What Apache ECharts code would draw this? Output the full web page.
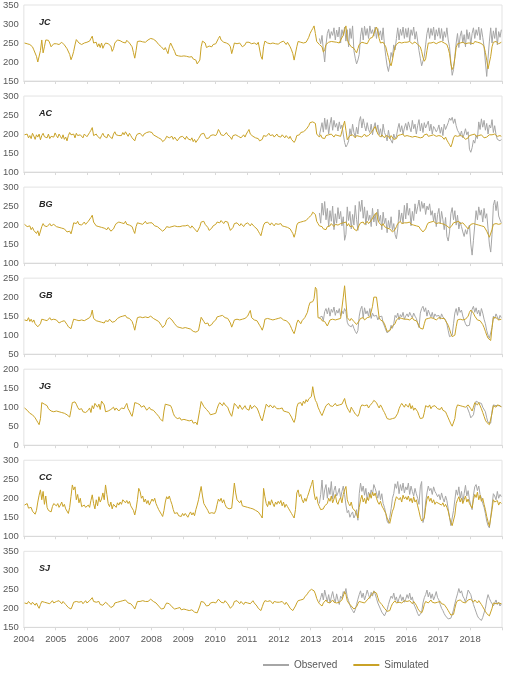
<!DOCTYPE html>
<html>
<head>
<meta charset="utf-8">
<script src="https://cdn.jsdelivr.net/npm/echarts@6/dist/echarts.min.js"></script>
<style>
  html, body { margin: 0; padding: 0; background: #fff; }
  #chart { width: 506px; height: 678px; }
</style>
</head>
<body>
<div id="chart"></div>
<script>
// semimonthly values, 24 per year, 2004..2018; observed series start at index 216 (2013)
const panelNames = ['JC', 'AC', 'BG', 'GB', 'JG', 'CC', 'SJ'];
const yMins = [150, 100, 100, 50, 0, 100, 150];
const yMaxs = [350, 300, 300, 250, 200, 300, 350];
const yearTicks = [2004, 2005, 2006, 2007, 2008, 2009, 2010, 2011, 2012, 2013, 2014, 2015, 2016, 2017, 2018];
const OBS_START = 216;

const simJC = [
  250,252,248,250,246,244,240,232,228,215,200,197,230,258,224,240,258,256,257,250,240,236,248,250,
  248,250,246,248,252,250,245,240,235,230,220,206,215,228,245,259,255,250,252,246,248,250,247,252,
  250,255,262,268,250,245,252,240,248,238,250,236,244,250,252,248,246,242,228,235,250,255,258,255,
  256,254,252,255,250,257,253,250,248,240,225,210,230,254,252,255,250,253,256,252,254,258,260,262,
  262,260,264,255,250,246,248,240,236,232,238,230,222,240,250,245,235,228,218,214,216,213,215,214,
  216,212,215,218,213,210,214,208,212,205,195,190,205,240,255,252,250,238,235,242,245,240,246,248,
  248,252,262,268,258,255,252,256,250,253,246,240,222,235,250,252,248,251,250,246,240,238,245,252,
  254,252,250,248,252,250,248,246,252,249,215,207,240,255,252,250,254,248,246,250,245,248,244,247,
  250,252,248,255,250,246,252,248,240,232,222,205,210,240,254,250,252,256,250,248,252,258,265,275,
  282,288,295,275,254,250,246,244,240,226,232,246,250,252,248,254,250,253,248,252,256,250,258,262,
  270,285,295,260,250,246,240,244,236,230,224,235,246,250,252,248,250,252,248,255,262,258,265,275,
  285,292,280,262,250,248,252,246,240,225,212,198,190,205,225,240,246,250,252,254,250,255,252,250,
  252,250,254,252,248,250,253,251,246,248,240,228,212,202,208,230,250,252,250,254,252,250,248,252,
  252,250,254,252,250,248,246,236,222,195,180,188,210,238,248,252,250,254,252,250,248,253,250,252,
  250,252,248,254,250,252,248,250,252,246,240,225,205,182,186,215,240,252,250,254,252,248,250,252
];
const obsJC = [
  null,null,null,null,null,null,262,248,270,232,200,245,275,286,262,280,270,290,258,284,266,292,250,285,
  270,292,255,285,240,288,262,295,230,210,195,205,220,268,290,258,294,270,288,262,295,275,285,268,
  292,262,288,270,282,258,290,245,215,190,175,195,225,212,245,232,262,290,258,286,270,292,262,288,
  265,290,255,285,270,292,260,280,255,230,210,190,185,215,245,275,290,262,288,270,292,258,285,268,
  290,262,288,255,280,265,290,258,240,200,165,180,215,250,275,238,268,282,250,272,240,285,260,278,
  245,275,290,262,285,270,292,258,288,265,240,200,162,210,255,290,250,282,262,290,245,280,265,285
];

const simAC = [
  198,194,200,190,196,188,202,195,186,198,192,200,185,196,202,193,198,190,200,188,194,199,192,203,
  196,190,200,194,188,198,186,192,182,196,204,198,195,200,190,202,196,192,198,194,190,200,196,193,
  198,204,210,217,196,192,200,194,198,188,196,202,194,198,190,200,194,196,188,200,206,198,202,196,
  200,196,204,198,206,200,194,202,196,190,186,182,194,200,196,202,198,194,200,196,204,200,206,210,
  204,198,200,194,196,190,192,186,180,176,186,194,196,190,188,194,186,192,190,182,186,192,188,194,
  190,186,194,188,192,184,190,180,186,178,182,188,192,200,196,202,194,188,184,190,196,192,198,194,
  196,202,212,206,198,202,196,200,204,198,194,192,186,196,200,198,202,194,196,190,194,198,192,200,
  206,212,200,196,194,198,190,194,188,182,178,186,196,200,194,198,202,196,194,198,192,196,200,194,
  196,192,198,194,190,196,192,188,194,186,182,178,184,196,200,198,204,202,206,210,212,216,222,230,
  226,232,234,228,200,196,192,198,190,194,188,196,192,198,194,200,196,192,198,194,196,200,194,198,
  222,234,210,185,190,196,192,198,194,190,196,200,194,198,192,196,200,194,198,196,200,204,208,214,
  220,218,200,196,192,198,194,190,196,192,194,188,196,192,186,182,188,196,194,198,196,200,194,198,
  196,200,194,198,192,188,194,198,192,196,190,186,192,198,196,200,194,198,196,192,198,196,194,198,
  196,192,194,190,186,192,184,178,172,166,176,190,196,198,194,198,196,200,194,190,186,182,190,196,
  194,198,196,200,194,198,196,192,198,194,190,186,192,196,198,194,198,196,200,196,194,198,196,194
];
const obsAC = [
  null,null,null,null,null,null,196,192,230,205,242,212,238,200,226,244,210,236,218,228,208,232,214,224,
  200,178,166,172,182,214,196,226,204,192,218,200,234,246,216,240,222,208,230,212,204,226,198,218,
  230,206,224,198,214,192,226,204,196,182,210,190,186,176,200,188,194,214,228,206,222,200,216,228,
  210,232,218,206,236,214,226,200,222,238,208,228,204,230,216,212,234,208,226,200,220,214,206,212,
  224,202,218,196,226,212,208,230,242,236,244,228,240,222,210,204,196,208,190,200,214,198,206,160,
  152,164,184,176,196,188,232,212,240,218,236,210,228,200,224,216,238,204,222,198,186,190,182,186
];

const simBG = [
  202,198,196,192,198,188,194,186,182,178,185,172,176,196,204,198,202,196,200,204,198,194,202,198,
  196,200,194,198,192,188,190,186,182,180,184,177,190,206,208,204,210,202,206,200,204,208,202,206,
  210,214,220,226,208,204,198,202,196,200,194,198,192,196,188,194,190,184,181,190,198,204,206,208,
  210,206,208,204,210,202,206,200,204,196,186,178,196,206,210,204,208,202,206,210,204,208,206,204,
  206,202,198,200,196,194,190,186,184,181,190,196,200,194,198,196,192,198,194,196,200,196,194,198,
  196,198,194,200,196,192,198,194,190,188,182,177,196,208,204,210,202,198,194,186,181,192,198,196,
  202,208,210,206,212,208,204,210,206,208,196,186,181,194,204,200,206,202,198,204,200,196,202,204,
  206,202,198,204,200,196,194,190,184,178,172,186,200,206,202,208,204,200,206,202,198,204,200,202,
  200,204,198,202,196,200,194,196,190,184,178,168,180,200,206,202,208,204,210,206,212,216,220,224,
  226,234,236,228,210,204,198,202,196,190,194,188,196,200,198,204,200,196,202,206,200,198,204,202,
  206,202,208,198,204,196,192,198,190,186,185,192,200,206,204,208,202,206,210,204,208,212,216,224,
  226,233,214,206,202,198,204,196,200,192,196,190,186,182,181,188,196,204,206,210,204,208,206,204,
  206,204,208,202,206,200,204,198,202,196,190,186,182,181,190,200,206,204,208,204,210,206,204,208,
  206,210,204,208,202,206,198,196,192,194,200,206,204,208,206,210,204,208,206,202,198,194,190,196,
  202,206,204,208,202,206,200,204,198,202,196,190,184,176,168,164,188,202,206,204,208,202,206,204
];
const obsBG = [
  null,null,null,null,null,null,232,205,258,226,262,214,244,196,238,210,250,188,230,205,246,216,236,198,
  222,160,176,248,212,236,190,228,200,252,215,186,262,236,266,218,248,200,238,212,226,196,244,208,
  230,198,242,210,226,188,234,204,218,180,212,192,222,186,204,175,164,190,240,210,232,204,252,216,
  258,226,244,198,236,212,256,230,248,266,236,262,244,258,228,250,240,256,226,238,210,232,196,228,
  244,204,236,214,188,220,170,158,182,230,246,214,238,200,226,190,208,196,182,170,188,176,192,200,
  150,121,160,200,238,214,248,226,240,208,244,218,230,190,150,129,176,252,266,238,262,224,214,206
];

const simGB = [
  140,144,138,146,136,142,134,140,130,126,122,117,130,142,146,140,144,138,142,146,140,136,142,144,
  140,136,132,128,136,140,138,134,128,122,120,117,130,142,146,140,144,138,142,140,144,138,140,142,
  144,146,152,166,144,140,138,142,136,140,134,138,132,138,140,136,142,138,134,132,136,140,144,146,
  148,144,150,146,152,146,148,144,140,136,126,113,130,146,150,148,152,146,144,148,150,146,148,150,
  148,144,146,140,142,136,132,126,120,117,128,140,144,146,142,140,136,130,126,122,124,120,122,118,
  122,120,124,118,120,116,114,110,106,108,104,112,130,147,142,136,130,126,132,124,120,128,134,136,
  140,148,152,150,146,152,148,146,150,144,140,132,121,130,140,144,142,146,140,144,142,138,144,146,
  150,158,165,146,142,140,144,138,132,126,120,113,124,142,146,144,148,142,146,140,144,142,146,144,
  142,146,144,140,144,138,136,132,126,118,110,104,116,132,140,136,130,138,142,146,150,160,176,186,
  188,188,196,226,220,146,142,144,138,140,136,134,124,128,140,144,142,146,140,144,142,146,144,140,
  200,230,228,146,142,138,144,140,136,132,128,126,138,144,142,146,140,144,146,142,148,150,176,200,
  200,200,196,146,140,142,136,130,120,110,108,112,118,124,121,130,140,144,146,142,144,146,142,144,
  142,146,140,144,146,140,142,138,132,124,118,113,116,130,142,146,144,140,146,142,144,146,140,144,
  146,142,144,140,144,138,134,126,116,104,96,95,100,122,140,144,142,146,140,144,142,146,150,160,
  166,169,158,150,146,140,142,138,134,128,120,110,100,92,88,86,120,146,142,146,144,140,144,142
];
const obsGB = [
  null,null,null,null,null,null,146,142,150,138,162,170,156,172,150,168,160,174,152,166,158,170,150,164,
  156,170,162,134,126,130,122,128,118,110,104,112,150,168,176,146,172,156,164,150,170,144,158,150,
  146,152,140,148,144,150,132,124,114,106,104,112,126,118,130,152,146,158,140,154,148,160,142,150,
  156,148,160,152,146,158,150,144,132,120,158,170,176,162,172,150,166,156,148,160,144,156,150,146,
  152,142,156,148,150,140,130,112,96,91,100,130,158,170,152,174,160,166,150,140,130,124,121,126,
  150,168,176,160,172,156,166,150,170,158,142,130,112,100,92,91,120,150,144,156,148,140,152,146
];

const simJG = [
  98,96,92,88,84,86,80,78,72,66,60,54,70,112,115,108,112,104,96,92,90,94,88,92,
  90,94,88,92,86,90,84,88,80,76,74,92,112,116,114,108,100,94,90,96,88,92,86,90,
  92,98,86,104,96,110,115,100,108,94,116,112,106,88,84,90,88,94,96,100,92,98,94,90,
  94,98,102,96,104,110,96,90,82,76,92,112,115,110,114,106,100,96,104,98,92,96,100,94,
  96,92,88,84,80,76,70,66,63,90,108,110,106,110,104,96,84,76,72,70,68,72,66,70,
  68,72,66,70,64,62,66,58,56,60,54,58,94,115,110,102,98,94,92,86,80,76,82,80,
  84,96,106,112,110,104,112,106,108,100,90,82,76,92,110,114,102,96,106,100,94,98,104,96,
  100,92,106,96,100,104,108,98,90,80,70,64,66,94,108,104,100,106,102,98,104,100,96,100,
  96,92,98,90,94,88,92,86,80,74,66,60,72,100,110,108,112,104,116,110,120,114,122,118,
  128,154,132,118,112,100,92,84,78,82,96,104,108,110,104,108,102,106,110,104,100,106,102,108,
  112,123,108,98,92,86,100,94,88,82,80,76,84,100,106,110,104,100,106,98,104,108,112,118,
  123,112,104,98,106,100,92,86,78,70,67,68,72,70,68,72,74,84,96,104,110,106,100,108,
  104,100,110,96,104,92,98,102,88,78,70,67,72,86,104,108,100,106,96,102,98,104,100,96,
  98,94,100,92,96,88,80,72,64,56,50,54,70,96,106,110,104,108,102,106,100,104,106,102,
  96,90,100,112,110,106,112,104,96,86,76,66,60,56,54,54,84,104,108,100,106,102,104,100
];
const obsJG = [
  null,null,null,null,null,null,null,null,null,null,null,null,null,null,null,null,null,null,null,null,null,null,null,null,
  null,null,null,null,null,null,null,null,null,null,null,null,null,null,null,null,null,null,null,null,null,null,null,null,
  null,null,null,null,null,null,null,null,null,null,null,null,null,null,null,null,null,null,null,null,null,null,null,null,
  null,null,null,null,null,null,null,null,null,null,null,null,null,null,null,null,null,null,null,null,null,null,null,null,
  null,null,null,null,null,null,null,null,null,null,null,null,null,null,null,null,null,null,null,null,null,102,98,84,
  72,67,80,100,116,118,112,114,110,100,96,88,72,60,56,58,90,106,110,104,108,104,106,102
];

const simCC = [
  182,178,186,174,170,176,166,162,158,168,190,208,222,196,218,184,206,176,168,172,164,178,186,182,
  180,186,176,182,190,178,184,172,168,160,176,205,235,222,230,196,210,188,200,178,174,182,176,180,
  182,176,194,209,186,172,196,180,204,190,198,214,196,235,210,186,178,190,172,184,180,176,188,182,
  190,184,196,200,188,194,186,192,180,176,168,156,172,196,226,218,200,206,190,198,186,194,182,190,
  198,192,200,186,178,170,164,158,152,168,190,204,198,206,194,184,170,160,156,162,154,158,152,160,
  154,160,156,150,158,164,156,162,154,170,182,196,214,231,206,186,180,174,168,160,156,162,164,160,
  168,184,198,192,200,188,196,184,176,180,172,168,174,206,240,214,196,200,188,194,180,176,178,174,
  176,180,174,178,172,176,168,170,164,160,154,148,226,204,186,178,192,182,196,186,178,190,184,192,
  186,194,180,190,176,184,178,172,166,160,154,148,170,214,222,204,210,196,188,200,192,204,214,226,
  236,248,214,196,204,186,178,170,166,172,180,176,186,200,192,206,188,198,210,190,184,196,202,188,
  210,222,231,196,186,180,190,174,178,166,158,148,176,196,208,190,200,186,202,194,212,200,216,206,
  214,200,190,184,192,180,174,170,160,148,140,134,150,166,174,192,204,209,196,202,190,208,198,204,
  196,206,192,200,188,204,190,196,180,166,150,140,139,148,176,198,206,192,200,188,196,184,190,194,
  186,190,182,188,178,184,176,166,150,136,128,125,156,186,196,204,190,200,186,196,206,190,198,186,
  180,174,196,210,202,216,196,208,192,200,184,170,152,138,126,121,170,196,190,186,194,182,190,186
];
const obsCC = [
  null,null,null,null,null,null,186,210,248,196,222,236,200,228,210,244,198,220,232,206,214,226,200,218,
  232,210,182,162,168,150,158,164,148,156,170,142,212,240,218,232,208,226,196,216,204,222,210,236,
  226,214,200,220,196,212,186,176,160,140,134,150,172,200,212,238,226,244,212,236,220,240,214,230,
  222,240,210,232,218,206,226,212,200,184,230,244,136,150,190,214,232,220,226,210,230,218,212,204,
  210,196,214,200,190,206,194,172,150,128,125,168,196,222,208,230,200,218,190,212,234,206,220,196,
  182,170,208,230,236,220,232,210,200,186,176,160,140,128,122,121,180,212,206,196,218,200,210,204
];

const simSJ = [
  214,216,212,218,214,210,216,212,208,214,206,200,210,218,222,216,220,214,218,212,216,220,214,216,
  218,214,220,216,212,218,214,210,206,202,200,198,206,216,220,218,222,216,214,218,212,216,220,214,
  216,220,224,228,218,214,216,212,218,210,214,208,212,216,214,210,206,202,198,206,214,218,216,220,
  218,214,220,216,222,218,214,216,212,208,204,198,208,218,222,218,214,220,216,218,222,218,220,224,
  222,218,220,214,210,206,202,198,196,200,208,214,218,212,208,204,200,198,196,200,198,202,196,200,
  198,202,196,200,194,198,196,192,190,194,188,192,206,218,222,216,212,206,202,208,214,210,216,212,
  214,218,224,220,216,218,214,220,216,212,206,200,196,208,218,214,220,216,212,218,214,210,216,218,
  214,218,212,216,220,214,210,206,200,196,194,204,214,220,216,218,214,220,216,212,218,214,216,212,
  216,212,218,214,210,216,212,206,200,196,194,198,206,214,220,218,222,226,224,230,234,238,244,248,
  250,254,246,238,226,218,212,210,206,214,218,222,216,220,214,218,222,216,220,214,218,216,220,222,
  232,244,236,220,214,210,206,202,198,196,204,212,218,222,216,220,214,218,222,226,230,234,238,244,
  246,240,228,218,214,210,206,200,196,192,190,194,204,212,216,220,214,218,216,220,214,218,220,216,
  218,214,220,216,212,218,214,208,200,194,190,188,196,210,218,220,214,218,222,216,220,214,218,216,
  214,218,212,216,210,206,200,194,188,182,180,184,200,214,220,216,222,218,216,220,214,218,222,226,
  224,220,216,222,218,214,220,216,210,204,198,192,186,182,180,184,200,214,218,212,216,214,210,212
];
const obsSJ = [
  null,null,null,null,null,null,216,228,240,222,248,232,218,236,214,230,244,226,216,238,222,210,232,226,
  244,238,252,230,220,208,200,194,188,196,210,224,236,246,228,240,222,234,248,236,226,242,232,246,
  238,226,214,206,198,190,186,180,184,196,210,222,232,226,240,222,230,214,226,236,220,230,216,224,
  236,226,240,222,230,212,204,196,186,180,176,190,214,228,236,248,230,242,226,238,222,232,244,228,
  222,210,200,194,186,180,176,172,168,174,184,196,212,226,238,252,240,246,232,226,216,232,248,244,
  236,222,210,200,190,180,174,170,168,176,188,200,222,236,226,218,212,206,214,222,210,216,206,212
];

const simAll = [simJC, simAC, simBG, simGB, simJG, simCC, simSJ];
const obsAll = [obsJC, obsAC, obsBG, obsGB, obsJG, obsCC, obsSJ];

const GRAY = '#a6a6a6';
const GOLD = '#c9a227';
const FONT = 'Liberation Sans';

const xOf = (i) => yearTicks[0] + (i + 0.5) / 24;
const toPairs = (vals, offset) => {
  const out = [];
  vals.forEach((v, k) => { if (v != null) out.push([xOf(k + offset), v]); });
  return out;
};

const chart = echarts.init(document.getElementById('chart'), null, { renderer: 'canvas' });

const grids = [], xAxes = [], yAxes = [], series = [], titles = [];
const TOP0 = 5, STEP = 91.05, H = 76;

panelNames.forEach((name, k) => {
  const top = TOP0 + k * STEP;
  grids.push({
    left: 22, right: 4, top: top, height: H,
    show: true, borderColor: '#e3e3e3', borderWidth: 1, backgroundColor: 'transparent'
  });
  xAxes.push({
    type: 'value', gridIndex: k, min: 2004, max: 2019, interval: 1,
    axisLine: { show: true, lineStyle: { color: '#d9d9d9', width: 1 } },
    axisTick: { show: true, length: 3, lineStyle: { color: '#d9d9d9' } },
    splitLine: { show: false },
    axisLabel: {
      show: k === panelNames.length - 1,
      color: '#595959', fontSize: 9.5, fontFamily: FONT, margin: 7,
      formatter: (v) => (v < 2019 ? String(v) : '')
    }
  });
  yAxes.push({
    type: 'value', gridIndex: k, min: yMins[k], max: yMaxs[k], interval: 50,
    axisLine: { show: false }, axisTick: { show: false }, splitLine: { show: false },
    axisLabel: { color: '#595959', fontSize: 9.5, fontFamily: FONT, margin: 5 }
  });
  titles.push({
    text: name, left: 34, top: top + 8,
    textStyle: { fontSize: 9, fontWeight: 'bold', fontStyle: 'italic', color: '#262626', fontFamily: FONT }
  });
  series.push({
    name: 'Observed', type: 'line', xAxisIndex: k, yAxisIndex: k,
    data: toPairs(obsAll[k], OBS_START), showSymbol: false, symbol: 'none',
    lineStyle: { color: GRAY, width: 1 }, itemStyle: { color: GRAY }, z: 2, animation: false
  });
  series.push({
    name: 'Simulated', type: 'line', xAxisIndex: k, yAxisIndex: k,
    data: toPairs(simAll[k], 0), showSymbol: false, symbol: 'none',
    lineStyle: { color: GOLD, width: 1 }, itemStyle: { color: GOLD }, z: 3, animation: false
  });
});

chart.setOption({
  animation: false,
  title: titles,
  grid: grids,
  xAxis: xAxes,
  yAxis: yAxes,
  series: series,
  legend: {
    data: ['Observed', 'Simulated'], left: 258, top: 655,
    icon: 'rect', itemWidth: 26, itemHeight: 2, itemGap: 16,
    textStyle: { color: '#595959', fontSize: 10, fontFamily: FONT }
  }
});
</script>
</body>
</html>
